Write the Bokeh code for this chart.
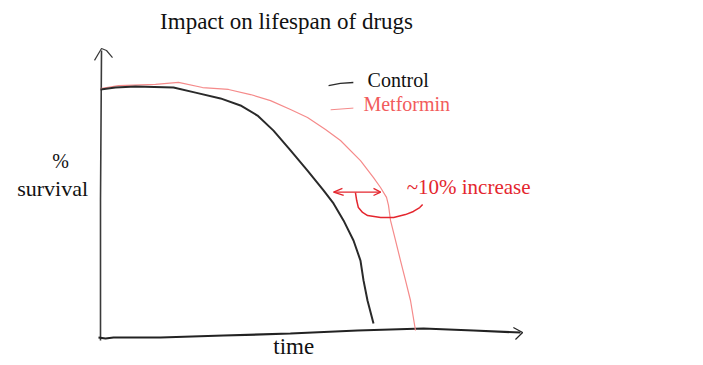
from bokeh.plotting import figure
from bokeh.embed import file_html
from bokeh.resources import INLINE
from bokeh.core.properties import value

# ---- data (time in arbitrary units 0..100, survival in %) ----
control_t = [0, 3.57, 8.33, 17.38, 22.62, 28.57, 33.33, 37.38, 41.19, 45.24, 49.29, 53.10, 55.48, 57.86, 60.24, 61.90, 62.62, 63.57, 65.0]
control_s = [99.6, 100.4, 100.8, 100.4, 98.3, 95.9, 93.0, 88.8, 82.6, 74.4, 66.1, 57.9, 52.5, 45.5, 37.2, 28.9, 20.7, 12.4, 2.9]

metformin_t = [0, 4.29, 13.10, 18.57, 24.29, 30.48, 35.71, 40.48, 45.24, 49.29, 53.57, 57.14, 61.90, 65.0, 66.67, 68.10, 68.57, 69.05, 70.24, 71.43, 72.62, 73.81, 75.0]
metformin_s = [100.0, 101.2, 101.7, 102.5, 100.4, 99.6, 97.5, 95.0, 91.3, 88.0, 83.1, 78.5, 70.2, 63.2, 59.1, 55.0, 51.7, 45.5, 37.2, 28.9, 20.7, 12.4, 0.0]

# hand-drawn axes
yaxis_t = [0, 0, 0.24]
yaxis_s = [-4.1, 53.7, 115.7]
yhead_t = [-1.43, 0.24, 1.43, 2.86]
yhead_s = [111.6, 116.5, 115.7, 112.8]
xaxis_t = [-0.48, 1.19, 3.10, 14.3, 29.3, 45.2, 61.2, 76.9, 88.8, 100.0]
xaxis_s = [-2.89, -3.31, -2.89, -2.89, -2.07, -1.24, 0.0, 0.83, 0.0, -0.83]
xhead_t = [98.3, 100.5, 98.8]
xhead_s = [1.24, -0.83, -3.72]

# legend strokes
leg_control_t = [54.3, 57.1, 60.2]
leg_control_s = [101.2, 102.1, 102.5]
leg_metformin_t = [54.8, 60.2]
leg_metformin_s = [91.2, 91.9]

# annotation (~10% increase)
span_t = [55.5, 66.7]
span_s = [57.2, 57.2]
lhead_t = [57.6, 55.5, 57.9]
lhead_s = [58.7, 57.2, 55.8]
rhead_t = [65.0, 66.7, 65.0]
rhead_s = [58.7, 57.2, 55.8]
hook_t = [60.7, 61.0, 61.4, 62.4, 63.6, 66.7, 69.8, 72.6, 74.5, 76.0, 76.7]
hook_s = [57.0, 53.7, 50.8, 48.8, 47.5, 46.7, 46.7, 47.9, 49.2, 50.8, 52.1]

title_text = "Impact on lifespan of drugs"
ylabel_lines = ["%", "survival"]
xlabel_text = "time"
legend_labels = ["Control", "Metformin"]
annotation_text = "~10% increase"

FONT = "Liberation Serif"

p = figure(width=703, height=365, x_range=(-23.81, 143.57), y_range=(-14.46, 136.36),
           output_backend="svg", toolbar_location=None, min_border=0)
p.axis.visible = False
p.grid.visible = False
p.outline_line_color = None
p.background_fill_color = "white"

# axes
p.line(yaxis_t, yaxis_s, line_color="#3a3a3a", line_width=1.6)
p.line(yhead_t, yhead_s, line_color="#3a3a3a", line_width=1.2)
p.line(xaxis_t, xaxis_s, line_color="#222222", line_width=2.2)
p.line(xhead_t, xhead_s, line_color="#222222", line_width=1.2)

# curves
p.line(metformin_t, metformin_s, line_color="#f58a8a", line_width=1.2, line_join="round")
p.line(control_t, control_s, line_color="#2a2a2a", line_width=2.0, line_join="round")

# legend
p.line(leg_control_t, leg_control_s, line_color="#2a2a2a", line_width=1.4)
p.line(leg_metformin_t, leg_metformin_s, line_color="#f58a8a", line_width=1.0)
p.text(x=[63.6], y=[103.7], text=[legend_labels[0]], text_font=value(FONT),
       text_font_size="20px", text_color="#111111", text_baseline="middle", text_align="left")
p.text(x=[62.6], y=[93.4], text=[legend_labels[1]], text_font=value(FONT),
       text_font_size="20px", text_color="#f25c5c", text_baseline="middle", text_align="left")

# annotation
ann = "#e4262e"
p.line(span_t, span_s, line_color=ann, line_width=1.3)
p.line(lhead_t, lhead_s, line_color=ann, line_width=1.3)
p.line(rhead_t, rhead_s, line_color=ann, line_width=1.3)
p.line(hook_t, hook_s, line_color=ann, line_width=1.5, line_join="round")
p.text(x=[72.9], y=[59.5], text=[annotation_text], text_font=value(FONT),
       text_font_size="21px", text_color=ann, text_baseline="middle", text_align="left")

# titles / labels
p.text(x=[44.3], y=[127.7], text=[title_text], text_font=value(FONT),
       text_font_size="23px", text_color="#111111", text_baseline="middle", text_align="center")
p.text(x=[-9.5], y=[70.2], text=[ylabel_lines[0]], text_font=value(FONT),
       text_font_size="20px", text_color="#111111", text_baseline="middle", text_align="center")
p.text(x=[-11.4], y=[58.7], text=[ylabel_lines[1]], text_font=value(FONT),
       text_font_size="22px", text_color="#111111", text_baseline="middle", text_align="center")
p.text(x=[46.0], y=[-6.6], text=[xlabel_text], text_font=value(FONT),
       text_font_size="23px", text_color="#111111", text_baseline="middle", text_align="center")

open("out.html", "w").write(file_html(p, INLINE))
